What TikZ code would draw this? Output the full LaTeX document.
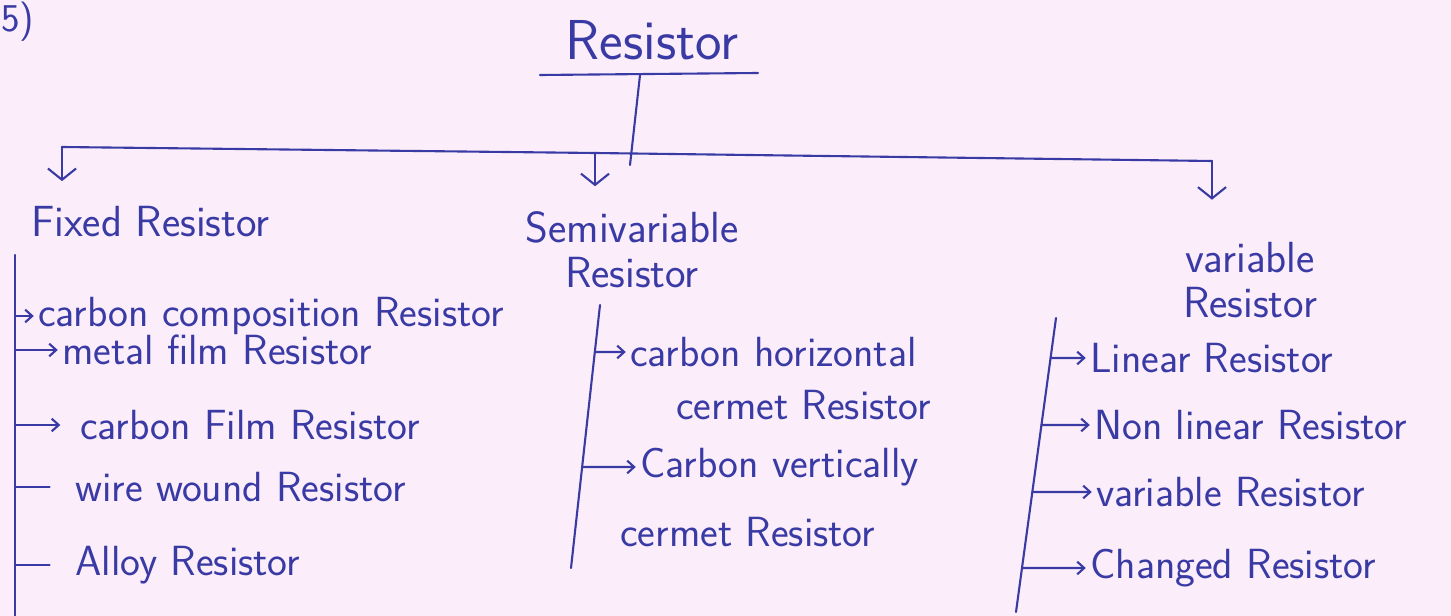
\documentclass[tikz,border=0pt]{standalone}
\usetikzlibrary{arrows.meta,positioning,calc}
\definecolor{ink}{RGB}{58,58,165}
\definecolor{paper}{RGB}{251,238,250}
\tikzset{
    >={Straight Barb[length=5pt,width=9pt]},
    every node/.style={text=ink, font=\sffamily}
}

\begin{document}
\begin{tikzpicture}[x=0.025cm, y=-0.025cm,
  title/.style={font=\sffamily\fontsize{40}{44}\selectfont, inner sep=2pt},
  kind/.style={font=\sffamily\fontsize{31}{32}\selectfont, align=center, inner sep=2pt},
  item/.style={font=\sffamily\fontsize{30}{34}\selectfont, anchor=west, inner sep=0pt},
  wire/.style={draw=ink, line width=1.5pt, line cap=round},
  arrowstyle/.style={wire, ->, shorten >=3pt},
  down/.style={wire, -{Straight Barb[length=8pt,width=20pt]}, shorten >=16pt},
  tickline/.style={wire, shorten >=18pt}
]
  % paper
  \fill[paper] (0,0) rectangle (1451,616);
  \useasboundingbox (0,0) rectangle (1451,616);

  % question number
  \node[item, font=\sffamily\fontsize{28}{32}\selectfont] (qno) at (1,22) {5)};

  % top of the tree
  \node[title] (res) at (652,40) {Resistor};
  \coordinate (ul) at (540,75);
  \coordinate (ur) at (758,73);
  \coordinate (stem) at (640,75);
  \coordinate (stemend) at (630,165);
  \draw[wire] (ul) -- (ur);
  \draw[wire] (stem) -- (stemend);

  % bus line
  \coordinate (busL) at (62,147);
  \coordinate (busM) at (595,153);
  \coordinate (busR) at (1212,161);
  \draw[wire] (busL) -- (busM) -- (busR);

  % three kinds
  \node[kind, anchor=west] (fixed) at (28,222) {Fixed Resistor};
  \node[kind] (semi) at (632,250) {Semivariable\\Resistor};
  \node[kind] (var) at (1250,280) {variable\\Resistor};

  \draw[down] (busL) -- (busL |- fixed.north);
  \draw[down] (busM) -- (busM |- semi.north);
  \draw[down, shorten >=28pt] (busR) -- (busR |- var.north);

  % fixed resistors
  \coordinate (fixtop) at (15,255);
  \coordinate (fixbot) at (15,616);
  \draw[wire] (fixtop) -- (fixbot);
  \node[item] (cc) at (38,316) {carbon composition Resistor};
  \node[item] (mf) at (62,350) {metal film Resistor};
  \node[item] (cf) at (80,425) {carbon Film Resistor};
  \node[item] (ww) at (75,487) {wire wound Resistor};
  \node[item] (al) at (75,565) {Alloy Resistor};
  \draw[arrowstyle] (fixtop |- cc.west) -- (cc.west);
  \draw[arrowstyle] (fixtop |- mf.west) -- (mf.west);
  \draw[arrowstyle, shorten >=14pt] (fixtop |- cf.west) -- (cf.west);
  \draw[tickline] (fixtop |- ww.west) -- (ww.west);
  \draw[tickline] (fixtop |- al.west) -- (al.west);

  % semivariable resistors
  \coordinate (semtop) at (600,305);
  \coordinate (sembot) at (571,568);
  \draw[wire] (semtop) -- (sembot);
  \node[item] (ch1) at (630,352) {carbon horizontal};
  \node[item] (ch2) at (676,405) {cermet Resistor};
  \node[item] (cv1) at (640,467) {Carbon vertically};
  \node[item] (cv2) at (620,532) {cermet Resistor};
  \draw[arrowstyle] (intersection of semtop--sembot and ch1.west--ch1.east) -- (ch1.west);
  \draw[arrowstyle] (intersection of semtop--sembot and cv1.west--cv1.east) -- (cv1.west);

  % variable resistors
  \coordinate (vartop) at (1056,318);
  \coordinate (varbot) at (1016,612);
  \draw[wire] (vartop) -- (varbot);
  \node[item] (lin) at (1090,358) {Linear Resistor};
  \node[item] (nl) at (1094,425) {Non linear Resistor};
  \node[item] (vr) at (1096,492) {variable Resistor};
  \node[item] (chg) at (1090,568) {Changed Resistor};
  \foreach \n in {lin,nl,vr,chg}
    \draw[arrowstyle] (intersection of vartop--varbot and \n.west--\n.east) -- (\n.west);
\end{tikzpicture}
\end{document}
